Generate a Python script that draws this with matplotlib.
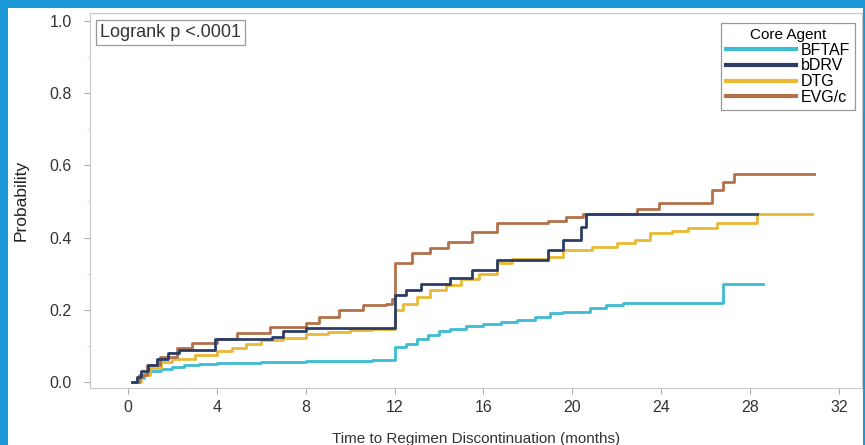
import matplotlib
matplotlib.use('Agg')
import matplotlib.pyplot as plt
from matplotlib.patches import Rectangle

plt.rcParams['font.family'] = ['Liberation Sans', 'DejaVu Sans']

# Kaplan-Meier style cumulative discontinuation
bftaf_t = [0.2, 0.4, 0.7, 1.0, 1.5, 2.0, 2.5, 3.2, 4.0, 6.0, 8.0, 9.5, 11.0, 12.0, 12.5, 13.0,
           13.5, 14.0, 14.5, 15.2, 16.0, 16.8, 17.5, 18.3, 19.0, 19.6, 20.8, 21.5, 22.3, 26.8, 28.6]
bftaf_p = [0.0, 0.012, 0.022, 0.03, 0.037, 0.042, 0.047, 0.051, 0.054, 0.055, 0.057, 0.059, 0.062,
           0.098, 0.105, 0.118, 0.13, 0.14, 0.148, 0.155, 0.16, 0.165, 0.172, 0.18, 0.19, 0.195,
           0.205, 0.213, 0.218, 0.272, 0.272]

bdrv_t = [0.2, 0.4, 0.6, 0.9, 1.3, 1.8, 2.3, 3.9, 5.0, 6.5, 7.0, 8.0, 12.0, 12.5, 13.2, 14.5,
          15.5, 16.6, 18.9, 19.6, 20.4, 20.6, 28.3]
bdrv_p = [0.0, 0.015, 0.03, 0.047, 0.065, 0.08, 0.09, 0.118, 0.12, 0.125, 0.14, 0.15, 0.241,
          0.255, 0.271, 0.288, 0.31, 0.338, 0.366, 0.393, 0.43, 0.465, 0.465]

dtg_t = [0.3, 0.6, 1.0, 1.5, 2.0, 3.0, 4.0, 4.7, 5.3, 6.0, 7.0, 8.0, 9.0, 10.0, 11.0, 12.0, 12.4,
         13.0, 13.6, 14.3, 15.0, 15.8, 16.6, 17.3, 18.9, 19.6, 20.9, 22.0, 22.8, 23.5, 24.5, 25.2,
         26.5, 28.3, 30.8]
dtg_p = [0.0, 0.02, 0.04, 0.055, 0.063, 0.075, 0.085, 0.095, 0.105, 0.115, 0.123, 0.132, 0.138,
         0.143, 0.146, 0.2, 0.215, 0.235, 0.255, 0.27, 0.285, 0.3, 0.33, 0.34, 0.347, 0.366, 0.375,
         0.385, 0.393, 0.412, 0.418, 0.426, 0.44, 0.465, 0.465]

evg_t = [0.3, 0.5, 0.84, 1.44, 2.2, 2.9, 4.0, 4.9, 6.4, 8.0, 8.6, 9.5, 10.6, 11.6, 11.9, 12.0,
         12.8, 13.6, 14.4, 15.5, 16.6, 18.9, 19.7, 20.5, 22.9, 23.9, 26.3, 26.8, 27.3, 30.9]
evg_p = [0.0, 0.02, 0.047, 0.07, 0.093, 0.107, 0.118, 0.135, 0.153, 0.163, 0.181, 0.2, 0.213,
         0.216, 0.23, 0.329, 0.357, 0.371, 0.389, 0.416, 0.44, 0.445, 0.458, 0.464, 0.478, 0.495,
         0.532, 0.555, 0.576, 0.576]

x_ticks = [0, 4, 8, 12, 16, 20, 24, 28, 32]
y_ticks = [0.0, 0.2, 0.4, 0.6, 0.8, 1.0]

fig = plt.figure(figsize=(8.65, 4.45), dpi=100)
fig.patch.set_facecolor('#1b98d6')
fig.add_artist(Rectangle((8 / 865, 0), 855 / 865, 437 / 445, transform=fig.transFigure,
                         facecolor='white', edgecolor='none', zorder=-10))

ax = fig.add_axes([90 / 865, 57 / 445, 772 / 865, 375 / 445])
ax.set_facecolor('white')

ax.step(bftaf_t, bftaf_p, where='post', color='#3dbcd3', lw=2, label='BFTAF')
ax.step(dtg_t, dtg_p, where='post', color='#e9b935', lw=2, label='DTG')
ax.step(evg_t, evg_p, where='post', color='#b3714b', lw=2, label='EVG/c')
ax.step(bdrv_t, bdrv_p, where='post', color='#2b3d66', lw=2, label='bDRV')

ax.set_xlim(-1.71, 33.04)
ax.set_ylim(-0.0166, 1.022)
ax.set_xticks(x_ticks)
ax.set_yticks(y_ticks)
ax.set_yticks([0.1, 0.3, 0.5, 0.7, 0.9], minor=True)
ax.set_yticklabels(['%.1f' % v for v in y_ticks])

for s in ax.spines.values():
    s.set_color('#c8c8c8')
ax.tick_params(axis='both', which='major', length=4, color='#aaaaaa', labelsize=11.5,
               labelcolor='#333333')
ax.tick_params(axis='x', pad=5)
ax.tick_params(axis='y', pad=9)
ax.tick_params(axis='y', which='minor', length=2, color='#cccccc')

ax.set_xlabel('Time to Regimen Discontinuation (months)', fontsize=11, color='#333333', labelpad=12)
ax.set_ylabel('Probability', fontsize=12.5, color='#222222', labelpad=15)

ax.text(10 / 772, 1 - 11 / 375, 'Logrank p <.0001', transform=ax.transAxes, fontsize=13,
        color='#333333', va='top', ha='left',
        bbox=dict(boxstyle='square,pad=0.2', facecolor='white', edgecolor='#999999', lw=0.9))

h, l = ax.get_legend_handles_labels()
order = [l.index(n) for n in ['BFTAF', 'bDRV', 'DTG', 'EVG/c']]
leg = ax.legend([h[i] for i in order], [l[i] for i in order], title='Core Agent',
                loc='upper right', bbox_to_anchor=(1 - 7 / 772, 1 - 10 / 375), borderaxespad=0,
                fontsize=11.5, title_fontsize=11, fancybox=False,
                handlelength=4.4, handletextpad=0.3, labelspacing=0.05,
                borderpad=0.3, framealpha=1)
leg.get_frame().set_edgecolor('#999999')
leg.get_frame().set_linewidth(0.9)
for line in leg.get_lines():
    line.set_linewidth(3)

fig.savefig('out.png', dpi=100, facecolor=fig.get_facecolor())
